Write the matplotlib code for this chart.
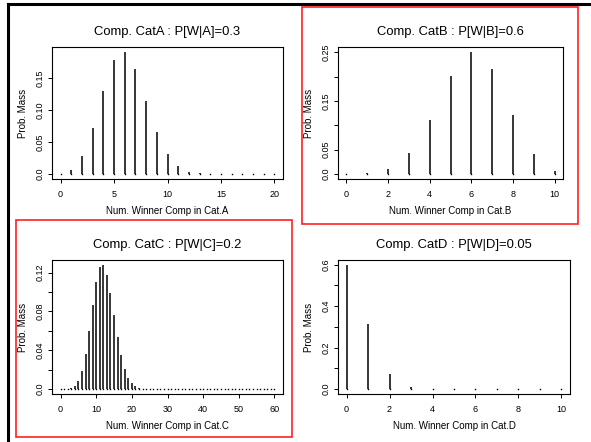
import numpy as np
import matplotlib
matplotlib.use('Agg')
import matplotlib.pyplot as plt
from matplotlib.lines import Line2D
from matplotlib.patches import Rectangle

plt.rcParams['font.family'] = ['Liberation Sans', 'DejaVu Sans']

# probability mass
pmf_a = [0.0008, 0.0068, 0.0279, 0.0716, 0.1304, 0.1789, 0.1916, 0.1643, 0.1144,
         0.0654, 0.0308, 0.0120, 0.0039, 0.0010, 0.0002, 0.0, 0.0, 0.0, 0.0, 0.0, 0.0]
pmf_b = [0.0001, 0.0016, 0.0106, 0.0425, 0.1115, 0.2007, 0.2508, 0.2150, 0.1209,
         0.0403, 0.0060]
pmf_c = [0.0, 0.0, 0.0002, 0.0008, 0.0029, 0.0082, 0.0187, 0.0361, 0.0599, 0.0865,
         0.1102, 0.1253, 0.1279, 0.1180, 0.0991, 0.0760, 0.0534, 0.0346, 0.0206,
         0.0114, 0.0058, 0.0028, 0.0012, 0.0005, 0.0002, 0.0001] + [0.0] * 35
pmf_d = [0.5987, 0.3151, 0.0746, 0.0105, 0.0010, 0.0001, 0.0, 0.0, 0.0, 0.0, 0.0]

titles = ['Comp. CatA : P[W|A]=0.3', 'Comp. CatB : P[W|B]=0.6',
          'Comp. CatC : P[W|C]=0.2', 'Comp. CatD : P[W|D]=0.05']
xlabels = ['Num. Winner Comp in Cat.A', 'Num. Winner Comp in Cat.B',
           'Num. Winner Comp in Cat.C', 'Num. Winner Comp in Cat.D']
xticks = [np.arange(0, 21, 5), np.arange(0, 11, 2), np.arange(0, 61, 10), np.arange(0, 11, 2)]
yticks = [[0.0, 0.05, 0.10, 0.15],
          [0.0, 0.05, 0.10, 0.15, 0.20, 0.25],
          [0.0, 0.02, 0.04, 0.06, 0.08, 0.10, 0.12],
          [0.0, 0.1, 0.2, 0.3, 0.4, 0.5, 0.6]]
ylabels = [['0.0', '0.05', '0.10', '0.15'],
           ['0.0', '0.05', '', '0.15', '', '0.25'],
           ['0.0', '', '0.04', '', '0.08', '', '0.12'],
           ['0.0', '', '0.2', '', '0.4', '', '0.6']]

W, H = 591, 442
fig = plt.figure(figsize=(W / 100, H / 100), dpi=100)

# axes boxes in pixels: left, top, right, bottom
boxes = [(52, 47, 283, 179), (338, 47, 563, 179),
         (52, 260, 283, 394), (338, 260, 570, 394)]

for i, pmf in enumerate([pmf_a, pmf_b, pmf_c, pmf_d]):
    l, t, r, b = boxes[i]
    ax = fig.add_axes([l / W, 1 - b / H, (r - l) / W, (b - t) / H])
    x = np.arange(len(pmf))
    y = np.array(pmf)
    ax.vlines(x, 0, y, color='black', linewidth=1.1)
    ax.plot(x, np.zeros_like(y), 's', color='black', markersize=1.0, markeredgewidth=0)
    n = x[-1]
    ax.set_xlim(-0.04 * n, 1.04 * n)
    ax.set_ylim(-0.04 * y.max(), 1.04 * y.max())
    ax.set_xticks(xticks[i])
    ax.set_yticks(yticks[i])
    ax.set_yticklabels(ylabels[i], rotation=90, va='center')
    ax.tick_params(labelsize=6.5, length=3, width=0.7, colors='black')
    ax.tick_params(axis='x', pad=5)
    ax.tick_params(axis='y', pad=2)
    ax.set_title(titles[i], fontsize=9.4, pad=9)
    ax.set_xlabel(xlabels[i], fontsize=7.0, labelpad=5)
    ax.set_ylabel('Prob. Mass', fontsize=7.0, labelpad=6)
    for s in ax.spines.values():
        s.set_linewidth(0.8)

# outer frame lines (left and top)
fig.add_artist(Line2D([8 / W, 8 / W], [0, 1 - 4 / H], transform=fig.transFigure,
                      color='black', linewidth=2.2))
fig.add_artist(Line2D([8 / W, 1], [1 - 4 / H, 1 - 4 / H], transform=fig.transFigure,
                      color='black', linewidth=2.2))

# red highlight boxes
for (l, t, r, b) in [(302, 7, 578, 224), (16, 220, 292, 437)]:
    fig.add_artist(Rectangle((l / W, 1 - b / H), (r - l) / W, (b - t) / H,
                             transform=fig.transFigure, fill=False,
                             edgecolor='#ff2020', linewidth=1.2))

fig.savefig('out.png', dpi=100)
